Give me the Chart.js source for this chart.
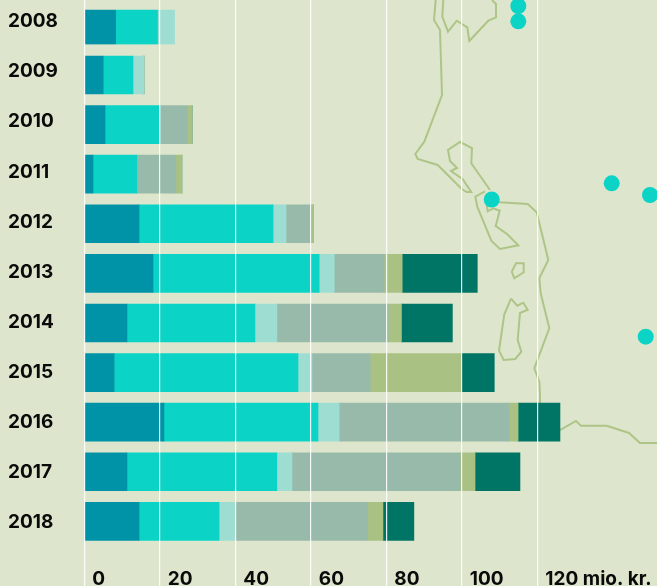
<!DOCTYPE html>
<html>
<head>
<meta charset="utf-8">
<script src="https://cdn.jsdelivr.net/npm/chart.js@4"></script>
<style>
html, body { margin: 0; padding: 0; background: #dde6cc; }
canvas { display: block; }
</style>
</head>
<body>
<canvas id="chart" width="657" height="586"></canvas>
<script>
// Sample data
const years = [2008, 2009, 2010, 2011, 2012, 2013, 2014, 2015, 2016, 2017, 2018];
const xTicks = [0, 20, 40, 60, 80, 100, 120];
const xTickLabels = ['0', '20', '40', '60', '80', '100', '120 mio. kr.'];

const seriesBlue = [8.4, 5.0, 5.5, 2.3, 14.5, 18.2, 11.3, 7.9, 21.1, 11.3, 14.5];
const seriesCyan = [11.1, 7.9, 14.3, 11.65, 35.5, 44.0, 33.9, 48.7, 40.8, 39.7, 21.2];
const seriesLight = [4.5, 2.9, 0.35, 0, 3.45, 4.0, 5.8, 3.7, 5.6, 4.0, 4.4];
const seriesGrey = [0, 0, 7.1, 10.3, 6.8, 13.2, 29.5, 15.4, 45.0, 44.6, 35.0];
const seriesOlive = [0, 0, 1.3, 1.6, 0.5, 4.8, 3.5, 24.2, 2.4, 3.9, 4.0];
const seriesDark = [0, 0, 0, 0, 0, 19.9, 13.5, 8.7, 11.1, 11.9, 8.2];

// Background map, in map units (x 84-657, y 0-568)
const coastWest = [[435.7, 0], [434, 20], [440, 30], [442, 95], [424.3, 141.7], [415.3, 154], [417.7, 159], [437.7, 165], [461.7, 189], [466.7, 192], [471.3, 192], [462.7, 179.3], [451, 171], [457, 168], [450, 161], [448, 150], [460, 142], [472, 148], [471.3, 163.3], [490, 190]];
const coastNorth = [[443.3, 0], [442.3, 16.7], [448, 31.7], [456.7, 20.7], [467.3, 27.3], [469.3, 41], [488.3, 20.7], [496, 17.3], [496, 4], [492, 0]];
const coastFjord = [[485, 191.3], [475.3, 196.7], [477.3, 206.7], [491.3, 240.7], [500, 249], [518.3, 245.3], [507.3, 234.3], [495.7, 226], [499.7, 210.7], [493.3, 208.3], [487.7, 211.3], [486.7, 205]];
const coastEast = [[491.7, 200], [500, 202.3], [527.7, 204], [536.7, 212.3], [548.3, 260], [539.3, 278.3], [540.7, 293.3], [549.3, 328.3], [534.3, 368.3], [539.3, 381.7], [540, 395], [540, 410], [560, 430], [576, 421], [581, 425.7], [606.7, 425.7], [629, 433], [640, 443], [657, 443]];
const islandSmall = [[511.7, 271.7], [516, 263.3], [523.7, 263.3], [523.7, 272.3], [514.3, 278.3], [511.7, 271.7]];
const islandLong = [[511, 298.7], [517.3, 305.7], [523.3, 302.7], [527.7, 309.7], [520, 313], [517.7, 340], [521.3, 351.7], [515.3, 359], [503.7, 360], [499, 350.7], [504.3, 314.3], [511, 298.7]];
const mapDots = [[518.3, 6], [518.3, 21.3], [491.7, 199.5], [611.7, 183.3], [650, 195], [645.7, 336.7]];

const bgColor = '#dde6cc';
const fontStack = 'Inter, "Open Sans", sans-serif';

function barSet(data, color) {
    return {
        label: '',
        data: data,
        backgroundColor: color,
        indexAxis: 'y',
        xAxisID: 'x',
        yAxisID: 'y',
        barThickness: 38,
        grouped: false,
        order: 1,
        // the first row is a bit shorter than the others
        borderColor: bgColor,
        borderSkipped: false,
        borderWidth: ctx => ctx.dataIndex === 0 ? { top: 3.6, left: 0, right: 0, bottom: 0 } : 0
    };
}

function mapLine(points) {
    return {
        type: 'line',
        data: points.map(p => ({ x: p[0], y: p[1] })),
        xAxisID: 'mapX',
        yAxisID: 'mapY',
        borderColor: '#aec587',
        borderWidth: 2,
        pointRadius: 0,
        tension: 0,
        fill: false,
        order: 10
    };
}

const coastlines = [coastWest, coastNorth, coastFjord, coastEast, islandSmall, islandLong];

// tick labels would otherwise push the chart area in from the canvas edges
function noOverhang(scale) {
    scale.paddingLeft = scale.paddingRight = scale.paddingTop = scale.paddingBottom = 0;
}

new Chart(document.getElementById('chart').getContext('2d'), {
    type: 'bar',
    data: {
        labels: years,
        datasets: [
            barSet(seriesBlue, '#0093a8'),
            barSet(seriesCyan, '#0bd3c6'),
            barSet(seriesLight, '#9eddd2'),
            barSet(seriesGrey, '#98baaa'),
            barSet(seriesOlive, '#a9c283'),
            barSet(seriesDark, '#007565'),
            ...coastlines.map(mapLine),
            {
                type: 'scatter',
                data: mapDots.map(p => ({ x: p[0], y: p[1] })),
                xAxisID: 'mapX',
                yAxisID: 'mapY',
                backgroundColor: '#0bd3c6',
                borderWidth: 0,
                pointRadius: 8,
                pointHoverRadius: 8,
                order: 5
            }
        ]
    },
    options: {
        responsive: false,
        animation: false,
        layout: { autoPadding: false, padding: { left: 8, right: 0, top: 0, bottom: 0 } },
        plugins: {
            legend: { display: false },
            tooltip: { enabled: false },
            title: { display: false }
        },
        scales: {
            x: {
                type: 'linear',
                position: 'bottom',
                stacked: true,
                offset: false,
                min: 0,
                max: 151.7,
                afterBuildTicks: scale => { scale.ticks = xTicks.map(value => ({ value })); },
                afterFit: scale => { scale.height = 18; noOverhang(scale); },
                border: { display: false },
                grid: { color: 'rgba(255,255,255,0.9)', lineWidth: 1.2, offset: false, tickLength: 18, z: 1 },
                ticks: {
                    align: 'start',
                    labelOffset: 8,
                    padding: -18,
                    autoSkip: false,
                    maxRotation: 0,
                    minRotation: 0,
                    color: '#0a0a0a',
                    font: { family: fontStack, size: 19, weight: '700' },
                    callback: (value, index) => xTickLabels[index]
                }
            },
            // bar rows
            y: {
                type: 'linear',
                display: false,
                stacked: true,
                offset: false,
                reverse: true,
                beginAtZero: false,
                min: 2007.488,
                max: 2018.94
            },
            // year labels sit on a slightly different spacing than the bars
            yearAxis: {
                type: 'linear',
                axis: 'y',
                position: 'left',
                reverse: true,
                beginAtZero: false,
                min: 2007.57,
                max: 2018.908,
                afterBuildTicks: scale => { scale.ticks = years.map(value => ({ value })); },
                afterFit: scale => { scale.width = 76.3; noOverhang(scale); },
                border: { display: false },
                grid: { display: false },
                ticks: {
                    crossAlign: 'far',
                    autoSkip: false,
                    color: '#0a0a0a',
                    font: { family: fontStack, size: 19, weight: '700' },
                    callback: value => String(value)
                }
            },
            mapX: { type: 'linear', axis: 'x', display: false, offset: false, grid: { offset: false }, min: 84.3, max: 657 },
            mapY: { type: 'linear', axis: 'y', display: false, reverse: true, min: 0, max: 568 }
        }
    }
});
</script>
</body>
</html>
